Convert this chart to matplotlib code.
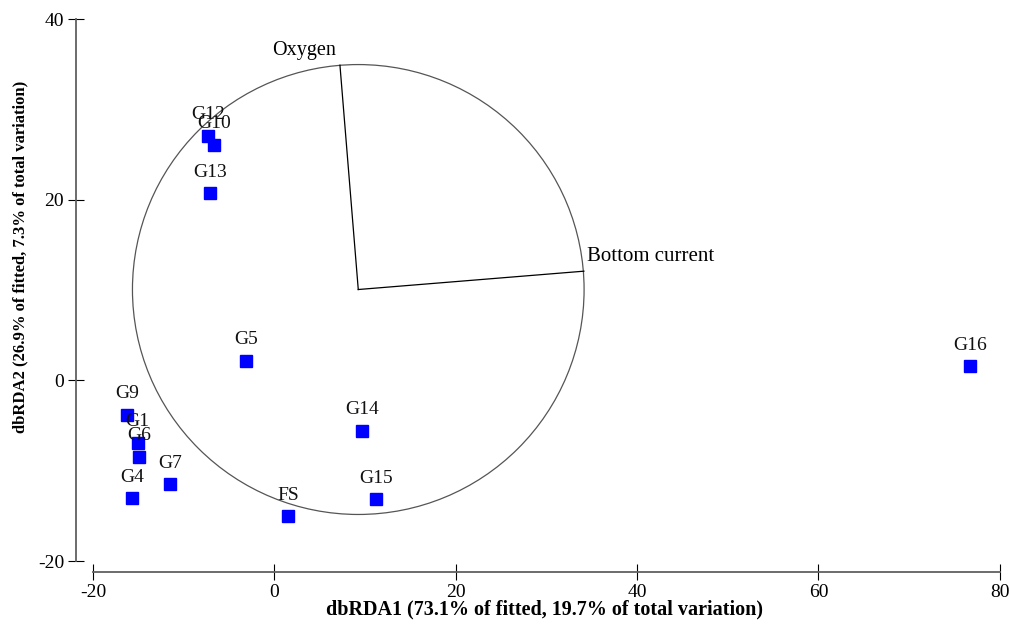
import numpy as np
import matplotlib
matplotlib.use("Agg")
import matplotlib.pyplot as plt
from matplotlib.patches import Circle

plt.rcParams['font.family'] = ['Liberation Serif', 'DejaVu Serif']
plt.rcParams['axes.unicode_minus'] = False

# site scores on the first two dbRDA axes
sites = ['G12', 'G10', 'G13', 'G5', 'G9', 'G1', 'G6', 'G4', 'G7', 'FS', 'G14', 'G15', 'G16']
db1 = [-7.34, -6.64, -7.12, -3.12, -16.20, -15.06, -14.91, -15.72, -11.53, 1.51, 9.70, 11.18, 76.70]
db2 = [27.08, 26.05, 20.70, 2.14, -3.79, -6.91, -8.46, -13.06, -11.49, -15.02, -5.58, -13.17, 1.58]

# predictor vectors (origin, end points) and the correlation circle
origin = (9.26, 10.07)
vectors = ['Oxygen', 'Bottom current']
vec_x = [7.24, 34.14]
vec_y = [34.90, 12.10]
radius = 24.9

fig = plt.figure(figsize=(10.10, 6.27), dpi=100)
ax = fig.add_axes([0.0752, 0.0877, 0.9192, 0.889])
ax.set_xlim(-21.87, 80.5)
ax.set_ylim(-21.2, 40.5)

ax.add_patch(Circle(origin, radius, fill=False, edgecolor='#555555', linewidth=0.9))
for name, vx, vy in zip(vectors, vec_x, vec_y):
    ax.plot([origin[0], vx], [origin[1], vy], color='black', linewidth=0.9)
ax.annotate('Oxygen', (vec_x[0], vec_y[0]), xytext=(-3, 4), textcoords='offset points',
            ha='right', va='bottom', fontsize=14.5)
ax.annotate('Bottom current', (vec_x[1], vec_y[1]), xytext=(2, 4), textcoords='offset points',
            ha='left', va='bottom', fontsize=15)

ax.plot(db1, db2, 's', color='#0000FF', markersize=8.5, linestyle='none')
for name, x, y in zip(sites, db1, db2):
    ax.annotate(name, (x, y), xytext=(0, 12), textcoords='offset points',
                ha='center', va='baseline', fontsize=14, color='#111111')

# bounded spines in the PRIMER style
for side in ['top', 'right']:
    ax.spines[side].set_visible(False)
ax.spines['left'].set_bounds(-20, 40)
ax.spines['bottom'].set_bounds(-20, 80)
for side in ['left', 'bottom']:
    ax.spines[side].set_color('#606060')
    ax.spines[side].set_linewidth(1.3)

ax.set_xticks([-20, 0, 20, 40, 60, 80])
ax.set_yticks([-20, 0, 20, 40])
ax.tick_params(direction='inout', length=11, width=0.8, color='black',
               labelsize=14, pad=3)

ax.set_xlabel('dbRDA1 (73.1% of fitted, 19.7% of total variation)',
              fontsize=14.5, fontweight='bold')
ax.set_ylabel('dbRDA2 (26.9% of fitted, 7.3% of total variation)',
              fontsize=12, fontweight='bold')
ax.xaxis.set_label_coords(0.5046, -0.049)
ax.yaxis.set_label_coords(-0.0517, 0.565)

fig.savefig('out.png', dpi=100)
